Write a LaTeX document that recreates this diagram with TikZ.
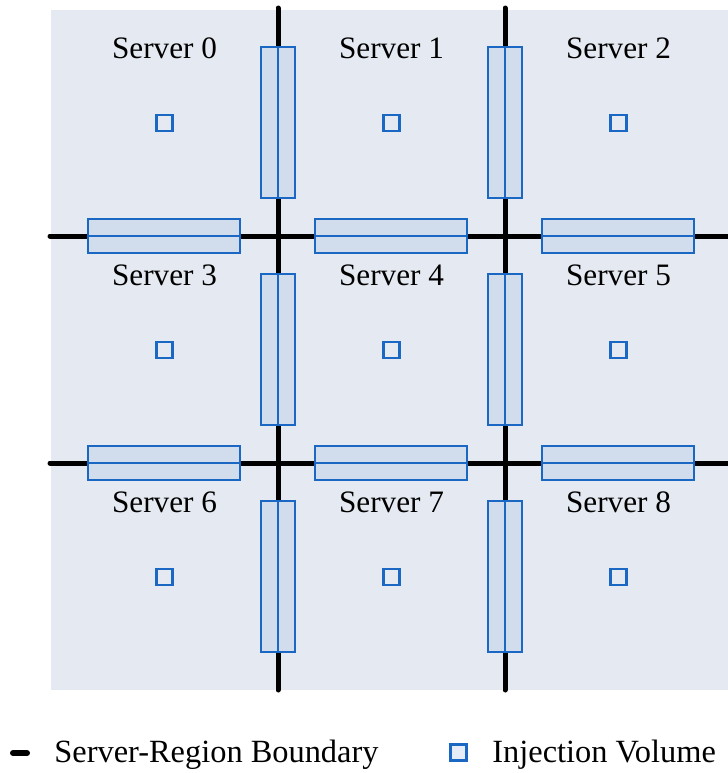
\documentclass[tikz,border=0pt]{standalone}
\usepackage{fontspec}
\setmainfont{Liberation Serif}
\definecolor{regionbg}{HTML}{E5E9F1}
\definecolor{volfill}{HTML}{D1DCEC}
\definecolor{volblue}{HTML}{1A68C4}
\definecolor{legfill}{HTML}{E6EDF8}
\tikzset{
  boundary/.style={line width=2.5pt, black, line cap=round},
  ghost/.style={draw=volblue, fill=volfill, line width=1.2pt},
  injection/.style={draw=volblue, fill=none, line width=1.1pt, minimum size=8pt, inner sep=0pt, rectangle},
  srvlabel/.style={font=\fontsize{15.6pt}{18pt}\selectfont, inner sep=0pt, anchor=center},
  legtext/.style={font=\fontsize{16.2pt}{19pt}\selectfont, inner sep=0pt, anchor=west}
}
\begin{document}
\begin{tikzpicture}[x=0.5pt, y=-0.5pt]
  \useasboundingbox (0,0) rectangle (728,773);
  % region background
  \fill[regionbg] (51,10) rectangle (728,690);
  % boundary lines between server regions
  \coordinate (vA1) at (278,8);   \coordinate (vA2) at (278,690);
  \coordinate (vB1) at (505,8);   \coordinate (vB2) at (505,690);
  \coordinate (hA1) at (50,236);  \coordinate (hA2) at (735,236);
  \coordinate (hB1) at (50,463);  \coordinate (hB2) at (735,463);
  \draw[boundary] (vA1) -- (vA2);
  \draw[boundary] (vB1) -- (vB2);
  \draw[boundary] (hA1) -- (hA2);
  \draw[boundary] (hB1) -- (hB2);
  % ghost layers on either side of each vertical boundary
  \foreach \bx in {278,505} {
    \foreach \cy in {122.5,349.5,576.5} {
      \draw[ghost] (\bx-17,\cy-75.5) rectangle (\bx,\cy+75.5);
      \draw[ghost] (\bx,\cy-75.5) rectangle (\bx+17,\cy+75.5);
    }
  }
  % ghost layers on either side of each horizontal boundary
  \foreach \by in {236,463} {
    \foreach \cx in {164,391,618} {
      \draw[ghost] (\cx-76,\by-17) rectangle (\cx+76,\by);
      \draw[ghost] (\cx-76,\by) rectangle (\cx+76,\by+17);
    }
  }
  % server labels and injection volumes
  \foreach \r in {0,1,2} {
    \foreach \c in {0,1,2} {
      \pgfmathtruncatemacro{\n}{3*\r+\c}
      \node[srvlabel] (lab\n) at (164.5+227*\c, 48+227*\r) {Server \n};
      \node[injection] (inj\n) at (164.5+227*\c, 123+227*\r) {};
    }
  }
  % legend
  \coordinate (lg1) at (13,753);
  \coordinate (lg2) at (27,753);
  \draw[boundary, line width=3pt] (lg1) -- (lg2);
  \node[legtext] (legb) at (54,755) {Server-Region Boundary};
  \node[injection, fill=legfill] (legsq) at (458.5,752.5) {};
  \node[legtext] (legi) at (492,755) {Injection Volume};
\end{tikzpicture}
\end{document}
